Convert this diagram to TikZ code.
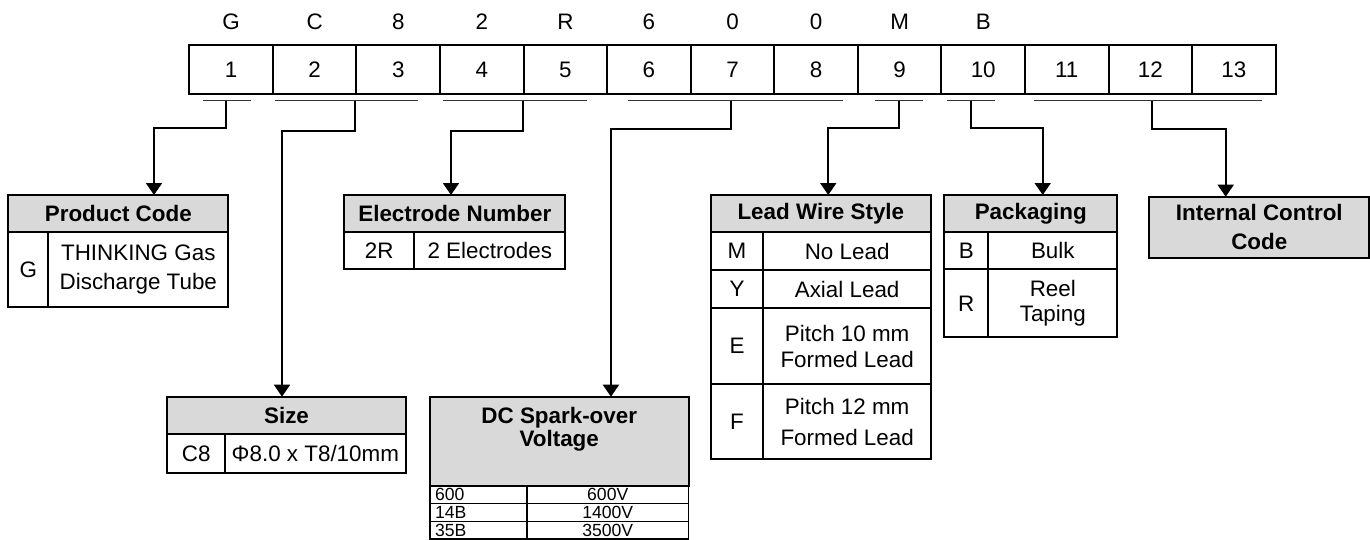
\documentclass[tikz,border=0pt]{standalone}
\usepackage{fontspec}
\setmainfont{Liberation Sans}
\usetikzlibrary{positioning, arrows.meta, calc}
\definecolor{hdrgray}{HTML}{D9D9D9}

\begin{document}
\begin{tikzpicture}[x=0.5pt, y=-0.5pt,
    font=\fontsize{11.2}{14}\selectfont,
    >={Triangle[width=8pt, length=6pt]},
    box/.style={draw, line width=1pt, rectangle, inner sep=0pt, outer sep=0pt},
    hdr/.style={box, fill=hdrgray, minimum height=18.65pt, font=\fontsize{11.2}{14}\selectfont\bfseries},
    cell/.style={box, minimum height=18.65pt},
    dcrow/.style={box, line width=0.8pt, minimum height=8.83pt, font=\fontsize{8.8}{9}\selectfont},
    digit/.style={draw, line width=1pt, minimum width=41.785pt, minimum height=24.5pt, inner sep=0pt},
    bar/.style={line width=0.8pt, draw=black!80},
    link/.style={->, line width=0.9pt}]

    \useasboundingbox (0,0) rectangle (1370,540);

    % code positions and letters
    \foreach \i in {1,...,13}
        \node (c\i) [digit] at ({189.3+83.57*(\i-0.5)}, 69.5) {\i};
    \foreach \ch [count=\i] in {G,C,8,2,R,6,0,0,M,B}
        \node (l\i) at ([yshift=11pt]c\i.north) {\ch};

    % group bars under the code
    \foreach \a/\b/\m/\n in {202.7/250.7/226/1, 275/418/355/2, 443/587/522.7/3, 628/843/731/4,
                            875/922.7/899/5, 946.7/995/970.7/6, 1034/1262/1151.7/7} {
        \draw[bar] (\a,100.7) -- (\b,100.7);
        \coordinate (s\n) at (\m,100.7);
    }

    % product code
    \node (pc) [hdr, minimum width=110pt] at (118.3, 213.65) {Product Code};
    \node (pck) [cell, minimum width=20pt, minimum height=37.2pt, below right=0pt and 0pt of pc.south west] {G};
    \node (pcv) [cell, minimum width=90pt, minimum height=37.2pt, right=0pt of pck, align=center,
                 font=\fontsize{11.2}{14.5}\selectfont] {THINKING Gas\\Discharge Tube};

    % electrode number
    \node (el) [hdr, minimum width=110.5pt] at (454.8, 213.65) {Electrode Number};
    \node (elk) [cell, minimum width=35pt, minimum height=18.5pt, below right=0pt and 0pt of el.south west] {2R};
    \node (elv) [cell, minimum width=75.5pt, minimum height=18.5pt, right=0pt of elk] {2 Electrodes};

    % size
    \node (sz) [hdr, minimum width=119.2pt] at (286.5, 415.35) {Size};
    \node (szk) [cell, minimum width=28.85pt, minimum height=19.65pt, below right=0pt and 0pt of sz.south west] {C8};
    \node (szv) [cell, minimum width=90.35pt, minimum height=19.65pt, right=0pt of szk] {Φ8.0 x T8/10mm};

    % dc spark-over voltage
    \node (dc) [hdr, minimum width=129.25pt, minimum height=44.65pt] at (559.25, 441.35) {};
    \node (dct) [font=\fontsize{11.2}{11.5}\selectfont\bfseries, align=center] at (559.25, 429) {DC Spark-over\\Voltage};
    \foreach \k/\v [count=\j] in {600/600V, 14B/1400V, 35B/3500V} {
        \node (dck\j) [dcrow, minimum width=48.5pt, inner xsep=2.5pt, text width=43.5pt, align=left]
            at (478.5, {486+17.67*(\j-0.5)}) {\k};
        \node (dcv\j) [dcrow, minimum width=80.75pt] at (607.75, {486+17.67*(\j-0.5)}) {\v};
    }

    % lead wire style
    \node (lw) [hdr, minimum width=110.15pt] at (820.85, 213.65) {Lead Wire Style};
    \node (lwk1) [cell, minimum width=26.3pt, minimum height=18.85pt, below right=0pt and 0pt of lw.south west] {M};
    \node (lwv1) [cell, minimum width=83.85pt, minimum height=18.85pt, right=0pt of lwk1] {No Lead};
    \node (lwk2) [cell, minimum width=26.3pt, minimum height=19.15pt, below=0pt of lwk1] {Y};
    \node (lwv2) [cell, minimum width=83.85pt, minimum height=19.15pt, right=0pt of lwk2] {Axial Lead};
    \node (lwk3) [cell, minimum width=26.3pt, minimum height=37.85pt, below=0pt of lwk2] {E};
    \node (lwv3) [cell, minimum width=83.85pt, minimum height=37.85pt, right=0pt of lwk3, align=center,
                  font=\fontsize{11.2}{13}\selectfont] {Pitch 10 mm\\Formed Lead};
    \node (lwk4) [cell, minimum width=26.3pt, minimum height=37.65pt, below=0pt of lwk3] {F};
    \node (lwv4) [cell, minimum width=83.85pt, minimum height=37.65pt, right=0pt of lwk4, align=center,
                  font=\fontsize{11.2}{15.5}\selectfont] {Pitch 12 mm\\Formed Lead};

    % packaging
    \node (pk) [hdr, minimum width=86.5pt] at (1030.8, 213.65) {Packaging};
    \node (pkk1) [cell, minimum width=22pt, minimum height=18.5pt, below right=0pt and 0pt of pk.south west] {B};
    \node (pkv1) [cell, minimum width=64.5pt, minimum height=18.5pt, right=0pt of pkk1] {Bulk};
    \node (pkk2) [cell, minimum width=22pt, minimum height=34pt, below=0pt of pkk1] {R};
    \node (pkv2) [cell, minimum width=64.5pt, minimum height=34pt, right=0pt of pkk2, align=center,
                  font=\fontsize{11.2}{12.5}\selectfont] {Reel\\Taping};

    % internal control code
    \node (ic) [hdr, minimum width=110pt, minimum height=30.5pt, align=center,
                font=\fontsize{11.2}{14.3}\selectfont\bfseries] at (1259.3, 227.2) {Internal Control\\Code};

    % connectors
    \draw[link] (s1) -- ++(0,27.3) -| ($(pc.north)+(35.7,0)$);
    \draw[link] (s2) -- ++(0,30) -| ($(sz.north)+(-4.5,0)$);
    \draw[link] (s3) -- ++(0,30) -| ($(el.north)+(-3.8,0)$);
    \draw[link] (s4) -- ++(0,28.3) -| ($(dc.north)+(51.7,0)$);
    \draw[link] (s5) -- ++(0,27.6) -| ($(lw.north)+(7.4,0)$);
    \draw[link] (s6) -- ++(0,27.6) -| ($(pk.north)+(11.9,0)$);
    \draw[link] (s7) -- ++(0,28.6) -| ($(ic.north)+(-33.6,0)$);
\end{tikzpicture}
\end{document}
